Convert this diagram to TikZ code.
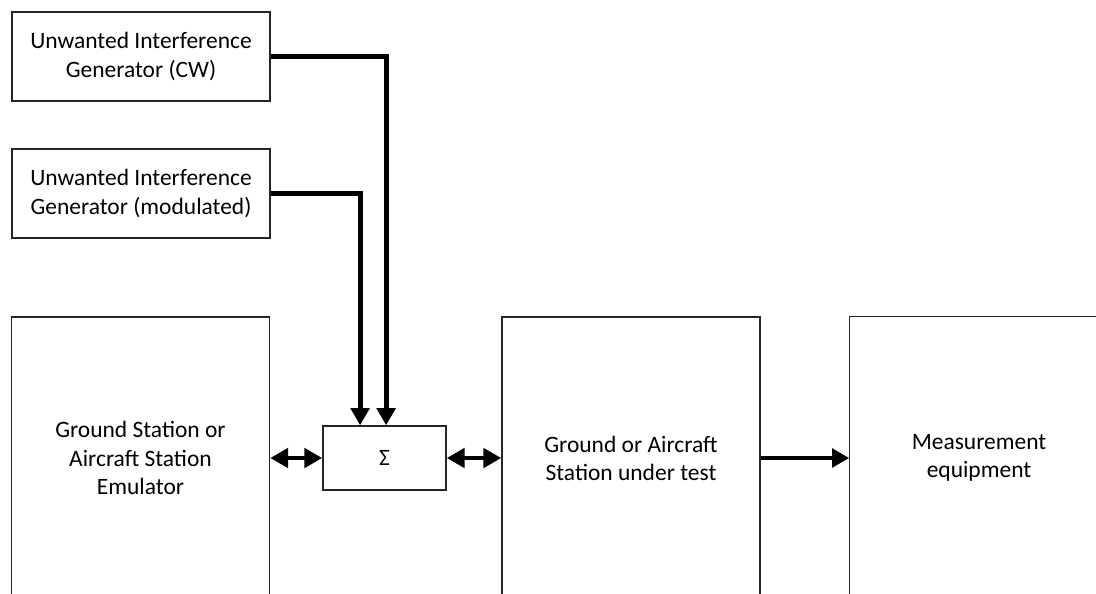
\documentclass[tikz,border=0pt]{standalone}
\usepackage{fontspec}
\setmainfont{Carlito}
\usetikzlibrary{arrows.meta,positioning}

\begin{document}
\begin{tikzpicture}[x=0.025cm, y=-0.025cm,
  blk/.style={draw=black!85, line width=1pt, align=center, inner sep=0pt, font=\fontsize{16.7}{20}\selectfont},
  genbox/.style={blk, minimum width=6.45cm, minimum height=2.225cm},
  bigbox/.style={blk, minimum width=6.45cm, minimum height=7.05cm},
  sig/.style={-{Triangle[length=4.3mm, width=4.6mm]}, line width=3.5pt},
  dsig/.style={{Triangle[length=4.5mm, width=4.8mm]}-{Triangle[length=4.5mm, width=4.8mm]}, line width=3.5pt},
]

% === Page frame ===
\clip (0,0) rectangle (1096,593);

% === Interference generators ===
\node[genbox] (gcw) at (141, 56.5) {Unwanted Interference\\Generator (CW)};
\node[genbox] (gmod) at (141, 193.5) {Unwanted Interference\\Generator (modulated)};

% === Main chain ===
\node[bigbox] (emu) at (140.5, 458) {Ground Station or\\Aircraft Station\\Emulator};
\node[blk, minimum width=3.075cm, minimum height=1.6cm] (sum) at (384.5, 458) {Σ};
\node[bigbox] (dut) at (631, 458) {Ground or Aircraft\\Station under test};
\node[bigbox, draw=none] (meas) at (979, 458) {Measurement\\equipment};
\draw[draw=black!85, line width=1pt] (meas.south west) -- (meas.north west) -- ([xshift=1cm]meas.north east);

% === Connectors ===
\draw[sig] (gcw.east) -| ([xshift=0.04cm]sum.north);
\draw[sig] (gmod.east) -| ([xshift=-0.61cm]sum.north);
\draw[dsig] (emu) -- (sum);
\draw[dsig] (sum) -- (dut);
\draw[sig] (dut) -- (meas);

\end{tikzpicture}
\end{document}
